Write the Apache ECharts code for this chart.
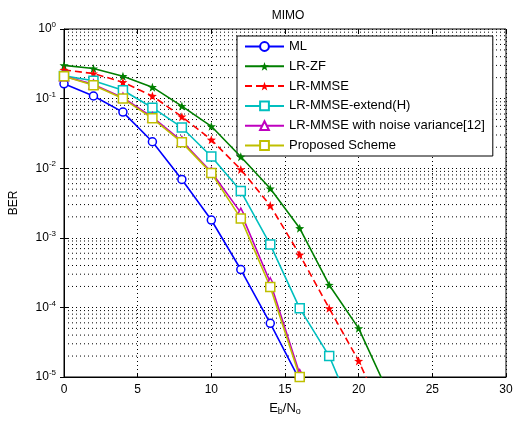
<!DOCTYPE html>
<html>
<head>
<meta charset="utf-8">
<script src="https://cdn.jsdelivr.net/npm/echarts@6/dist/echarts.min.js"></script>
<style>
  html, body { margin: 0; padding: 0; background: #fff; }
  #chart { width: 519px; height: 421px; }
</style>
</head>
<body>
<div id="chart"></div>
<script>
// Eb/No points (dB)
const snr = [0, 2, 4, 6, 8, 10, 12, 14, 16, 18, 20, 22];

// BER
const berML = [0.163, 0.109, 0.064, 0.024, 0.0069, 0.0018, 3.5e-4, 5.9e-5, 9e-6];
const berLRZF = [0.30, 0.27, 0.21, 0.146, 0.078, 0.040, 0.0146, 0.0051, 0.00137, 2.1e-4, 5e-5, 6e-6];
const berLRMMSE = [0.258, 0.229, 0.172, 0.109, 0.055, 0.0256, 0.0096, 0.0029, 5.7e-4, 9.7e-5, 1.7e-5, 2e-6];
const berExtend = [0.212, 0.18, 0.132, 0.074, 0.0385, 0.0147, 0.0047, 8e-4, 9.7e-5, 2e-5, 2e-6];
const berNoiseVar = [0.21, 0.16, 0.103, 0.054, 0.0245, 0.0088, 0.0023, 2.3e-4, 1.1e-5];
const berProposed = [0.21, 0.155, 0.1, 0.052, 0.0235, 0.0085, 0.0019, 1.96e-4, 1e-5];

const names = ['ML', 'LR-ZF', 'LR-MMSE', 'LR-MMSE-extend(H)',
    'LR-MMSE with noise variance[12]', 'Proposed Scheme'];
const xTicks = [0, 5, 10, 15, 20, 25, 30];
const yExponents = [-5, -4, -3, -2, -1, 0];

// log minor grid values (2..9 x 10^k)
const minorGrid = [];
yExponents.slice(0, -1).forEach(e => {
    for (let m = 2; m <= 9; m++) minorGrid.push(m * Math.pow(10, e));
});

const pair = arr => arr.map((v, i) => [snr[i], v]);

const starPath = 'path://M0,-10 L2.4,-3.3 L9.5,-3.1 L3.9,1.3 L5.9,8.1 L0,4.1 L-5.9,8.1 L-3.9,1.3 L-9.5,-3.1 L-2.4,-3.3 Z';
const font = 'Liberation Sans, Arial, sans-serif';
const dotted = { color: '#000', type: [1, 3], width: 1 };

function makeSeries(name, data, color, symbol, opts) {
    return Object.assign({
        name: name,
        type: 'line',
        data: pair(data),
        symbol: symbol,
        symbolSize: 8,
        showAllSymbol: true,
        z: 5,
        itemStyle: { color: '#fff', borderColor: color, borderWidth: 1.5 },
        lineStyle: { color: color, width: 1.6 },
        emphasis: { disabled: true }
    }, opts || {});
}

// minor grid drawn as plain dotted lines across the x range
const gridSeries = minorGrid.map(v => ({
    type: 'line',
    data: [[xTicks[0], v], [xTicks[xTicks.length - 1], v]],
    symbol: 'none',
    silent: true,
    z: 1,
    lineStyle: dotted,
    emphasis: { disabled: true }
}));

const chart = echarts.init(document.getElementById('chart'));
chart.setOption({
    animation: false,
    backgroundColor: '#fff',
    textStyle: { fontFamily: font },
    title: {
        text: 'MIMO', left: 283, top: 5, textAlign: 'center',
        textStyle: { fontSize: 12, fontWeight: 'normal', color: '#000', fontFamily: font }
    },
    grid: {
        left: 60, right: 13, top: 29, bottom: 40,
        show: true, borderColor: '#000', borderWidth: 1
    },
    legend: {
        data: names,
        orient: 'vertical', left: 237, top: 36,
        backgroundColor: '#fff', borderColor: '#000', borderWidth: 1,
        padding: [4, 8, 4, 7], itemGap: 6.8, itemWidth: 39, itemHeight: 11,
        textStyle: { fontSize: 13, color: '#000', fontFamily: font }
    },
    xAxis: [{
        type: 'value', min: 0, max: 30, interval: 5,
        name: 'E{sub|b}/N{sub|o}', nameLocation: 'middle', nameGap: 24,
        nameTextStyle: {
            fontSize: 13, color: '#000', fontFamily: font,
            rich: { sub: { fontSize: 9, verticalAlign: 'bottom', padding: [6, 0, 0, 0], color: '#000' } }
        },
        axisLine: { lineStyle: { color: '#000' } },
        axisTick: { inside: true, length: 4, lineStyle: { color: '#000' } },
        axisLabel: { color: '#000', fontSize: 12, margin: 7 },
        splitLine: { show: true, lineStyle: dotted }
    }, {
        type: 'value', min: 0, max: 30, interval: 5, position: 'top',
        axisLine: { show: false },
        axisTick: { inside: true, length: 4, lineStyle: { color: '#000' } },
        axisLabel: { show: false },
        splitLine: { show: false }
    }],
    yAxis: [{
        type: 'log', logBase: 10, min: 1e-5, max: 1,
        name: 'BER', nameLocation: 'middle', nameGap: 44,
        nameTextStyle: { fontSize: 12, color: '#000', fontFamily: font },
        axisLine: { lineStyle: { color: '#000' } },
        axisTick: { inside: true, length: 4, lineStyle: { color: '#000' } },
        axisLabel: {
            color: '#000', fontSize: 12, margin: 8,
            formatter: v => '10{sup|' + Math.round(Math.log10(v)) + '}',
            rich: { sup: { fontSize: 8, verticalAlign: 'top', padding: [0, 0, 8, 0], color: '#000' } }
        },
        splitLine: { show: true, lineStyle: dotted }
    }, {
        type: 'log', logBase: 10, min: 1e-5, max: 1, position: 'right',
        axisLine: { show: false },
        axisTick: { inside: true, length: 4, lineStyle: { color: '#000' } },
        axisLabel: { show: false },
        splitLine: { show: false }
    }],
    series: gridSeries.concat([
        makeSeries(names[0], berML, '#0000ff', 'circle', { symbolSize: 8 }),
        makeSeries(names[1], berLRZF, '#007f00', starPath, {
            symbolSize: 9,
            itemStyle: { color: '#007f00', borderColor: '#007f00', borderWidth: 0 }
        }),
        makeSeries(names[2], berLRMMSE, '#ff0000', starPath, {
            symbolSize: 9,
            itemStyle: { color: '#ff0000', borderColor: '#ff0000', borderWidth: 0 },
            lineStyle: { color: '#ff0000', width: 1.6, type: [7, 4] }
        }),
        makeSeries(names[3], berExtend, '#00bfbf', 'rect', { symbolSize: 9 }),
        makeSeries(names[4], berNoiseVar, '#bf00bf', 'triangle', { symbolSize: 9 }),
        makeSeries(names[5], berProposed, '#bfbf00', 'rect', { symbolSize: 9 })
    ])
});
window.addEventListener('resize', () => chart.resize());
</script>
</body>
</html>
